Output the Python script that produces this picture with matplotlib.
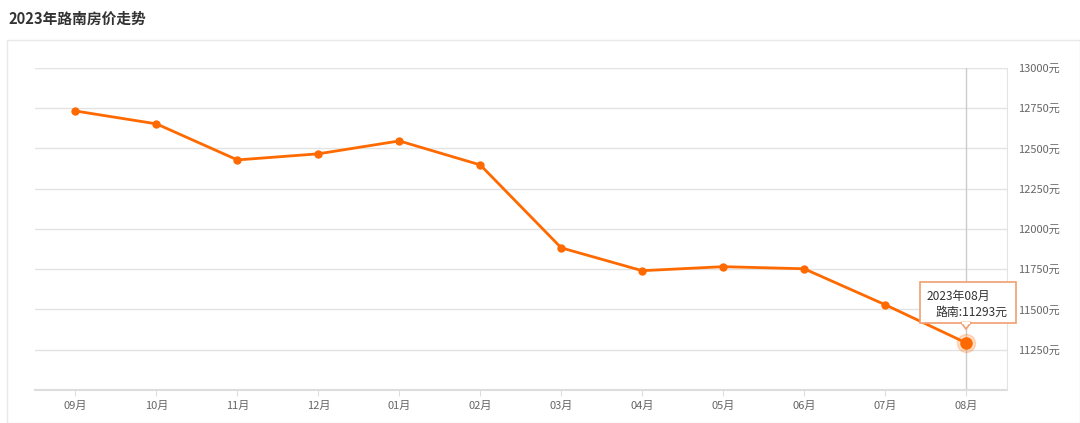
import numpy as np
import matplotlib.pyplot as plt
from matplotlib.patches import Rectangle, Polygon

plt.rcParams['font.family'] = ['Noto Sans CJK SC', 'DejaVu Sans']

# data
months = ['09月', '10月', '11月', '12月', '01月', '02月', '03月', '04月', '05月', '06月', '07月', '08月']
prices = [12733, 12653, 12429, 12467, 12547, 12398, 11883, 11741, 11766, 11753, 11530, 11293]
yticks = [11250, 11500, 11750, 12000, 12250, 12500, 12750, 13000]

orange = '#ff6a00'

fig = plt.figure(figsize=(10.8, 4.23), dpi=100)
W, H = 1080, 423

# title and outer panel border
fig.text(8 / W, 1 - 19 / H, '2023年路南房价走势', fontsize=10.6, fontweight='bold',
         color='#333333', va='center', ha='left')
fig.patches.append(Rectangle((7 / W, 0), 1 - 7 / W, 1 - 40 / H, transform=fig.transFigure,
                             fill=False, edgecolor='#e8e8e8', linewidth=1))

ax = fig.add_axes([35 / W, 1 - 390 / H, (1006.5 - 35) / W, (390 - 68) / H])
x = np.arange(len(months))
ax.plot(x, prices, color=orange, linewidth=2, marker='o', markersize=5, zorder=3)

# highlighted last point
ax.plot(x[-1], prices[-1], 'o', color=orange, markersize=13, alpha=0.22, zorder=4)
ax.plot(x[-1], prices[-1], 'o', color=orange, markersize=8, zorder=5)
ax.axvline(x[-1], color='#cccccc', linewidth=1, zorder=1)

ax.set_xlim(-0.5, len(months) - 0.5)
ax.set_ylim(11000, 13000)
ax.set_xticks(x)
ax.set_xticklabels(months, fontsize=8, color='#666666')
ax.set_yticks(yticks)
ax.set_yticklabels([f'{v}元' for v in yticks], fontsize=8, color='#666666')
ax.yaxis.tick_right()
ax.tick_params(axis='y', length=0, pad=8)
ax.tick_params(axis='x', length=4, color='#dddddd', pad=4)
ax.grid(axis='y', color='#e3e3e3', linewidth=1)
ax.set_axisbelow(True)
for side in ['top', 'left']:
    ax.spines[side].set_visible(False)
ax.spines['bottom'].set_color('#dddddd')
ax.spines['bottom'].set_linewidth(1.5)
ax.spines['right'].set_color('#e3e3e3')

# tooltip
bx0, by0, bx1, by1 = 920, 282, 1016, 323
fig.patches.append(Rectangle((bx0 / W, 1 - by1 / H), (bx1 - bx0) / W, (by1 - by0) / H,
                             transform=fig.transFigure, facecolor='white',
                             edgecolor='#f0a070', linewidth=1.2, zorder=10))
fig.patches.append(Polygon([(961 / W, 1 - 322.5 / H), (971 / W, 1 - 322.5 / H), (966 / W, 1 - 329 / H)],
                           closed=True, transform=fig.transFigure, facecolor='white',
                           edgecolor='#f0a070', linewidth=1.2, zorder=10))
fig.patches.append(Rectangle((961.7 / W, 1 - 323.5 / H), 8.6 / W, 2 / H, transform=fig.transFigure,
                             facecolor='white', edgecolor='none', zorder=11))
fig.text(927 / W, 1 - 296 / H, '2023年08月', fontsize=8.6, color='#333333',
         va='center', ha='left', zorder=12)
fig.text(1008 / W, 1 - 312 / H, '路南:11293元', fontsize=8.6, color='#333333',
         va='center', ha='right', zorder=12)

fig.savefig('out.png', dpi=100)
